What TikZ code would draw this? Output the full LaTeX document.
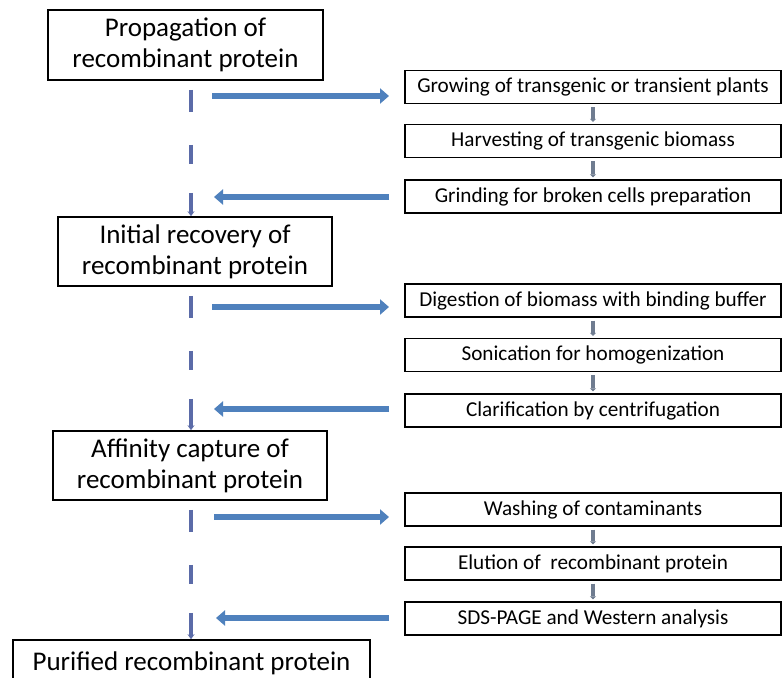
\documentclass[tikz,border=0pt]{standalone}
\usepackage{fontspec}
\setmainfont{Carlito}
\usetikzlibrary{arrows.meta}
\definecolor{arrowblue}{HTML}{4F81BD}
\definecolor{dashblue}{HTML}{5B6BA8}
\definecolor{smallgray}{HTML}{6F7C90}
\begin{document}
\begin{tikzpicture}[x=1pt,y=-1pt,
  bigbox/.style={draw=black, line width=1.6pt, align=center, inner sep=0pt,
    font=\fontsize{27}{31}\selectfont},
  stepbox/.style={draw=black, line width=1.4pt, inner sep=0pt,
    minimum width=376pt, minimum height=33pt, font=\fontsize{21.2}{24}\selectfont},
  bigarrow/.style={draw=arrowblue, line width=6pt, -{Triangle[length=9pt,width=15pt]}},
  smallarrow/.style={draw=smallgray, line width=3.5pt, -{Triangle[length=3pt,width=6pt]},
    shorten <=3pt, shorten >=2pt},
  vdash/.style={draw=dashblue, line width=3.5pt, -{Stealth[length=5pt,width=7pt]},
    dash pattern=on 0pt off 9pt on 22pt off 33pt on 19pt off 29pt on 80pt}
]
\useasboundingbox (0,0) rectangle (783,677);
\fill[white] (0,0) rectangle (783,677);
\coordinate (vx) at (191,0);

% main boxes
\node[bigbox, minimum width=275pt, minimum height=70pt] (b1) at (185.5,45) {Propagation of\\recombinant protein};
\node[bigbox, minimum width=274pt, minimum height=69pt] (b2) at (195,251.5) {Initial recovery of\\recombinant protein};
\node[bigbox, minimum width=274pt, minimum height=69pt] (b3) at (190,465.5) {Affinity capture of\\recombinant protein};
\node[bigbox, minimum width=357pt, minimum height=46pt] (b4) at (191.5,663) {Purified recombinant protein};

% step boxes
\node[stepbox] (g1) at (593,87) {Growing of transgenic or transient plants};
\node[stepbox] (g2) at (593,141) {Harvesting of transgenic biomass};
\node[stepbox] (g3) at (593,196.5) {Grinding for broken cells preparation};
\node[stepbox] (d1) at (593,300.5) {Digestion of biomass with binding buffer};
\node[stepbox] (d2) at (593,355) {Sonication for homogenization};
\node[stepbox] (d3) at (593,410.5) {Clarification by centrifugation};
\node[stepbox] (w1) at (593,509.5) {Washing of contaminants};
\node[stepbox] (w2) at (593,563.5) {Elution of\ \ recombinant protein};
\node[stepbox] (w3) at (593,618.5) {SDS-PAGE and Western analysis};

% small arrows between step boxes
\draw[smallarrow] (g1.south) -- (g2.north);
\draw[smallarrow] (g2.south) -- (g3.north);
\draw[smallarrow] (d1.south) -- (d2.north);
\draw[smallarrow] (d2.south) -- (d3.north);
\draw[smallarrow] (w1.south) -- (w2.north);
\draw[smallarrow] (w2.south) -- (w3.north);

% vertical dashed connectors
\draw[vdash] (b1.south -| vx) -- (b2.north -| vx);
\draw[vdash] (b2.south -| vx) -- (b3.north -| vx);
\draw[vdash] (b3.south -| vx) -- (b4.north -| vx);

% horizontal arrows
\coordinate (r1s) at (212,96);  \coordinate (r1e) at (389,96);
\coordinate (l1s) at (389,197); \coordinate (l1e) at (214,197);
\coordinate (r2s) at (212,307); \coordinate (r2e) at (389,307);
\coordinate (l2s) at (389,409); \coordinate (l2e) at (214,409);
\coordinate (r3s) at (214,517); \coordinate (r3e) at (389,517);
\coordinate (l3s) at (389,618); \coordinate (l3e) at (216,618);
\draw[bigarrow] (r1s) -- (r1e);
\draw[bigarrow] (l1s) -- (l1e);
\draw[bigarrow] (r2s) -- (r2e);
\draw[bigarrow] (l2s) -- (l2e);
\draw[bigarrow] (r3s) -- (r3e);
\draw[bigarrow] (l3s) -- (l3e);
\end{tikzpicture}
\end{document}
